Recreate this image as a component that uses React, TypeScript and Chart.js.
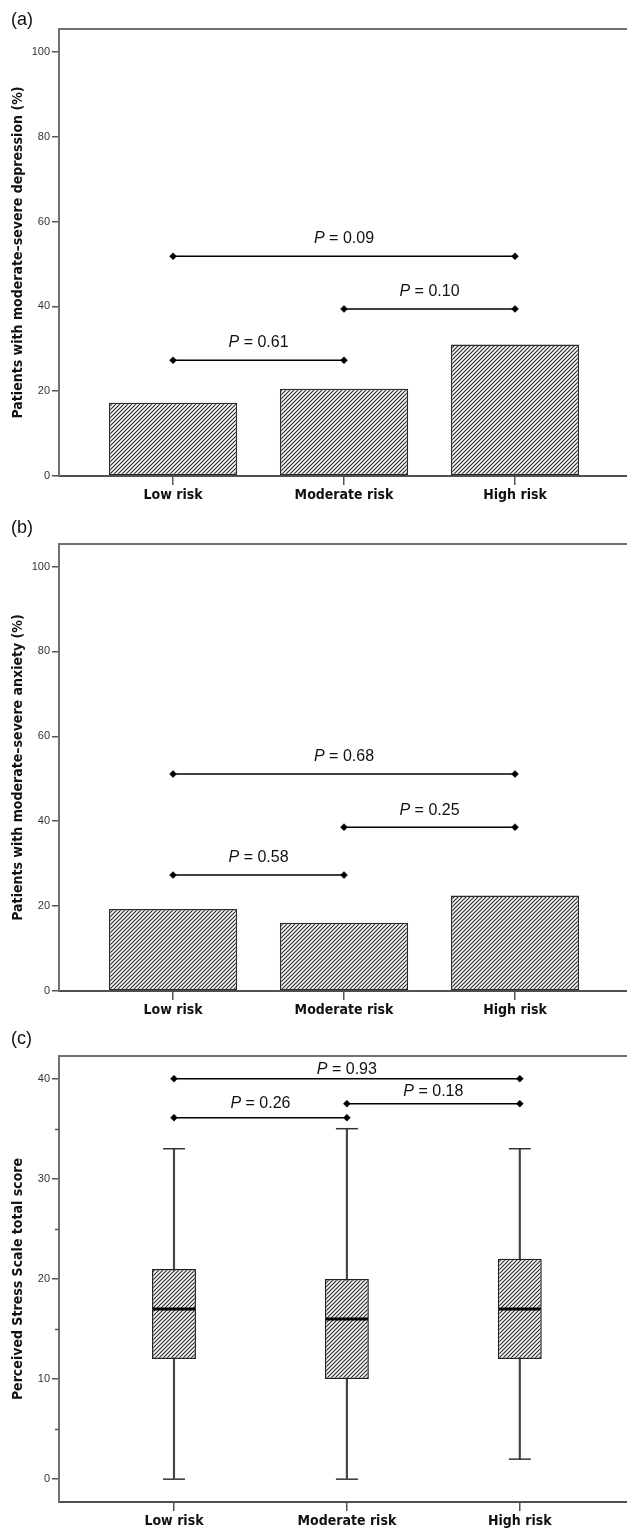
import React, { useEffect, useRef } from 'react';
import { Chart, registerables } from 'chart.js';

Chart.register(...registerables);

// ---------- data ----------
const categories = ['Low risk', 'Moderate risk', 'High risk'];
const groupX = [1, 2, 3];

const depressionPct = [17.3, 20.6, 31.0];
const anxietyPct = [19.3, 16.1, 22.5];

const pctTicks = [0, 20, 40, 60, 80, 100];
const pssTicks = [0, 5, 10, 15, 20, 25, 30, 35, 40];

const pssMin = [0, 0, 2];
const pssQ1 = [12, 10, 12];
const pssMedian = [17, 16, 17];
const pssQ3 = [21, 20, 22];
const pssMax = [33, 35, 33];

// pairwise comparisons
const depFrom = [1, 2, 1];
const depTo = [2, 3, 3];
const depLineY = [27.3, 39.4, 51.8];
const depLabelY = [31.4, 43.4, 56.0];
const depP = ['0.61', '0.10', '0.09'];

const anxFrom = [1, 2, 1];
const anxTo = [2, 3, 3];
const anxLineY = [27.3, 38.6, 51.1];
const anxLabelY = [31.4, 42.6, 55.2];
const anxP = ['0.58', '0.25', '0.68'];

const pssFrom = [1, 2, 1];
const pssTo = [2, 3, 3];
const pssLineY = [36.1, 37.5, 40.0];
const pssLabelY = [37.5, 38.7, 40.9];
const pssP = ['0.26', '0.18', '0.93'];

// ---------- styling helpers ----------
const BOLD_FONT = '"DejaVu Sans Condensed", "DejaVu Sans", sans-serif';
const PLAIN_FONT = '"Liberation Sans", Arial, sans-serif';

function makeHatch(): CanvasPattern | string {
  const c = document.createElement('canvas');
  c.width = 4;
  c.height = 4;
  const g = c.getContext('2d');
  if (!g) return '#999';
  g.fillStyle = '#ffffff';
  g.fillRect(0, 0, 4, 4);
  g.strokeStyle = '#2b2b2b';
  g.lineWidth = 1.2;
  g.beginPath();
  g.moveTo(0, 4);
  g.lineTo(4, 0);
  g.moveTo(-1, 1);
  g.lineTo(1, -1);
  g.moveTo(3, 5);
  g.lineTo(5, 3);
  g.stroke();
  return g.createPattern(c, 'repeat') || '#999';
}

function bracketDatasets(from: number[], to: number[], lineY: number[]) {
  return from.map((f, i) => ({
    type: 'line' as const,
    data: [
      { x: f, y: lineY[i] },
      { x: to[i], y: lineY[i] },
    ],
    borderColor: '#000',
    borderWidth: 1.5,
    pointStyle: 'rectRot',
    pointRadius: 3.5,
    pointBackgroundColor: '#000',
    pointBorderColor: '#000',
    pointBorderWidth: 0.5,
    order: 0,
  }));
}

function pLabelPlugin(from: number[], to: number[], labelY: number[], p: string[]) {
  return {
    id: 'pLabels',
    afterDatasetsDraw(chart: any) {
      const { ctx, scales } = chart;
      const xs = scales.x;
      const ys = scales.y;
      ctx.save();
      ctx.fillStyle = '#111';
      ctx.textBaseline = 'middle';
      ctx.textAlign = 'left';
      const italic = `italic 16px ${PLAIN_FONT}`;
      const normal = `16px ${PLAIN_FONT}`;
      from.forEach((f, i) => {
        const cx = (xs.getPixelForValue(f) + xs.getPixelForValue(to[i])) / 2;
        const cy = ys.getPixelForValue(labelY[i]);
        const rest = ' = ' + p[i];
        ctx.font = italic;
        const w1 = ctx.measureText('P').width;
        ctx.font = normal;
        const w2 = ctx.measureText(rest).width;
        const sx = cx - (w1 + w2) / 2;
        ctx.font = italic;
        ctx.fillText('P', sx, cy);
        ctx.font = normal;
        ctx.fillText(rest, sx + w1, cy);
      });
      ctx.restore();
    },
  };
}

function framePlugin(title: string, titleX: number, minorTicks: number[]) {
  return {
    id: 'frame',
    afterDraw(chart: any) {
      const { ctx, chartArea } = chart;
      ctx.save();
      // top border
      ctx.strokeStyle = '#707070';
      ctx.lineWidth = 2;
      ctx.beginPath();
      ctx.moveTo(chartArea.left - 1, chartArea.top);
      ctx.lineTo(chartArea.right, chartArea.top);
      ctx.stroke();
      // minor ticks
      const ys = chart.scales.y;
      ctx.strokeStyle = '#555';
      ctx.lineWidth = 1.5;
      minorTicks.forEach((v) => {
        const py = Math.round(ys.getPixelForValue(v)) + 0.5;
        ctx.beginPath();
        ctx.moveTo(chartArea.left - 4, py);
        ctx.lineTo(chartArea.left, py);
        ctx.stroke();
      });
      // y title
      ctx.translate(titleX, (chartArea.top + chartArea.bottom) / 2);
      ctx.rotate(-Math.PI / 2);
      ctx.fillStyle = '#111';
      ctx.font = `bold 14px ${BOLD_FONT}`;
      ctx.textAlign = 'center';
      ctx.textBaseline = 'middle';
      ctx.fillText(title, 0, 0);
      ctx.restore();
    },
  };
}

function xScale(min: number, max: number, height: number) {
  return {
    type: 'linear' as const,
    min,
    max,
    offset: false,
    afterBuildTicks: (s: any) => {
      s.ticks = groupX.map((v) => ({ value: v }));
    },
    afterFit: (s: any) => {
      s.height = height;
      s.paddingLeft = 0;
      s.paddingRight = 0;
    },
    border: { color: '#505050', width: 2 },
    grid: {
      offset: false,
      drawOnChartArea: false,
      drawTicks: true,
      tickLength: 9,
      color: '#555',
      lineWidth: 1.5,
    },
    ticks: {
      callback: (v: number) => {
        const i = groupX.indexOf(v);
        return i >= 0 ? categories[i] : '';
      },
      font: { family: BOLD_FONT, weight: 'bold' as const, size: 14 },
      color: '#111',
      padding: 2,
      maxRotation: 0,
      autoSkip: false,
    },
  };
}

function yScale(min: number, max: number, ticks: number[], labelEvery: number) {
  return {
    type: 'linear' as const,
    min,
    max,
    afterBuildTicks: (s: any) => {
      s.ticks = ticks.map((v) => ({ value: v }));
    },
    afterFit: (s: any) => {
      s.width = 59;
      s.paddingTop = 0;
      s.paddingBottom = 0;
    },
    border: { color: '#707070', width: 2 },
    grid: {
      drawOnChartArea: false,
      drawTicks: true,
      tickLength: 7,
      lineWidth: 1.5,
      color: (c: any) => (c.tick && c.tick.value % labelEvery === 0 ? '#555' : 'rgba(0,0,0,0)'),
    },
    ticks: {
      callback: (v: number) => (v % labelEvery === 0 ? String(v) : ''),
      font: { family: PLAIN_FONT, size: 11 },
      color: '#333',
      padding: 2,
      autoSkip: false,
    },
  };
}

function barPanel(
  canvas: HTMLCanvasElement,
  values: number[],
  title: string,
  yMax: number,
  from: number[],
  to: number[],
  lineY: number[],
  labelY: number[],
  p: string[],
  hatch: CanvasPattern | string
) {
  return new Chart(canvas, {
    type: 'bar',
    data: {
      datasets: [
        {
          type: 'bar',
          data: groupX.map((x, i) => ({ x, y: values[i] })) as any,
          backgroundColor: hatch as any,
          borderColor: '#2a2a2a',
          borderWidth: 1.5,
          borderSkipped: false,
          barPercentage: 0.75,
          categoryPercentage: 1,
          order: 2,
        },
        ...(bracketDatasets(from, to, lineY) as any[]),
      ],
    },
    options: {
      responsive: false,
      animation: false,
      events: [],
      layout: { autoPadding: false, padding: { top: 29, left: 0, right: 0, bottom: 0 } },
      plugins: { legend: { display: false }, tooltip: { enabled: false } },
      scales: {
        x: xScale(0.333, 3.655, 34) as any,
        y: yScale(0, yMax, pctTicks, 20) as any,
      },
    },
    plugins: [framePlugin(title, 18, []), pLabelPlugin(from, to, labelY, p)],
  });
}

function boxPanel(canvas: HTMLCanvasElement, hatch: CanvasPattern | string) {
  return new Chart(canvas, {
    type: 'bar',
    data: {
      datasets: [
        {
          type: 'bar',
          data: groupX.map((x, i) => ({ x, y: [pssMin[i], pssMax[i]] })) as any,
          backgroundColor: '#444',
          barThickness: 1.5,
          grouped: false,
          order: 3,
        } as any,
        {
          type: 'bar',
          data: groupX.map((x, i) => ({ x, y: [pssQ1[i], pssQ3[i]] })) as any,
          backgroundColor: hatch as any,
          borderColor: '#222',
          borderWidth: 1.5,
          borderSkipped: false,
          barPercentage: 0.254,
          categoryPercentage: 1,
          grouped: false,
          order: 2,
        } as any,
        {
          type: 'line',
          showLine: false,
          data: groupX.map((x, i) => ({ x, y: pssMax[i] })),
          pointStyle: 'line',
          pointRadius: 11,
          pointBorderWidth: 1.5,
          pointBorderColor: '#333',
          order: 1,
        } as any,
        {
          type: 'line',
          showLine: false,
          data: groupX.map((x, i) => ({ x, y: pssMin[i] })),
          pointStyle: 'line',
          pointRadius: 11,
          pointBorderWidth: 1.5,
          pointBorderColor: '#333',
          order: 1,
        } as any,
        {
          type: 'line',
          showLine: false,
          data: groupX.map((x, i) => ({ x, y: pssMedian[i] })),
          pointStyle: 'line',
          pointRadius: 21,
          pointBorderWidth: 3,
          pointBorderColor: '#000',
          order: 1,
        } as any,
        ...(bracketDatasets(pssFrom, pssTo, pssLineY) as any[]),
      ],
    },
    options: {
      responsive: false,
      animation: false,
      events: [],
      layout: { autoPadding: false, padding: { top: 31, left: 0, right: 0, bottom: 0 } },
      plugins: { legend: { display: false }, tooltip: { enabled: false } },
      scales: {
        x: xScale(0.335, 3.62, 27) as any,
        y: yScale(-2.28, 42.26, pssTicks, 10) as any,
      },
    },
    plugins: [
      framePlugin('Perceived Stress Scale total score', 18, [5, 15, 25, 35]),
      pLabelPlugin(pssFrom, pssTo, pssLabelY, pssP),
    ],
  });
}

const panelLabelStyle: React.CSSProperties = {
  position: 'absolute',
  left: 11,
  font: `18px ${PLAIN_FONT}`,
  lineHeight: '20px',
  color: '#111',
};

export default function App() {
  const aRef = useRef<HTMLCanvasElement>(null);
  const bRef = useRef<HTMLCanvasElement>(null);
  const cRef = useRef<HTMLCanvasElement>(null);

  useEffect(() => {
    const hatch = makeHatch();
    const charts: Chart[] = [];
    if (aRef.current)
      charts.push(
        barPanel(
          aRef.current,
          depressionPct,
          'Patients with moderate–severe depression (%)',
          105.4,
          depFrom,
          depTo,
          depLineY,
          depLabelY,
          depP,
          hatch
        )
      );
    if (bRef.current)
      charts.push(
        barPanel(
          bRef.current,
          anxietyPct,
          'Patients with moderate–severe anxiety (%)',
          105.3,
          anxFrom,
          anxTo,
          anxLineY,
          anxLabelY,
          anxP,
          hatch
        )
      );
    if (cRef.current) charts.push(boxPanel(cRef.current, hatch));
    return () => charts.forEach((c) => c.destroy());
  }, []);

  return (
    <div
      style={{
        position: 'absolute',
        left: 0,
        top: 0,
        width: 627,
        height: 1529,
        background: '#fff',
        overflow: 'hidden',
      }}
    >
      <canvas ref={aRef} width={627} height={510} style={{ position: 'absolute', left: 0, top: 0 }} />
      <canvas ref={bRef} width={627} height={510} style={{ position: 'absolute', left: 0, top: 515 }} />
      <canvas ref={cRef} width={627} height={504} style={{ position: 'absolute', left: 0, top: 1025 }} />
      <div style={{ ...panelLabelStyle, top: 9 }}>(a)</div>
      <div style={{ ...panelLabelStyle, top: 517 }}>(b)</div>
      <div style={{ ...panelLabelStyle, top: 1028 }}>(c)</div>
    </div>
  );
}
